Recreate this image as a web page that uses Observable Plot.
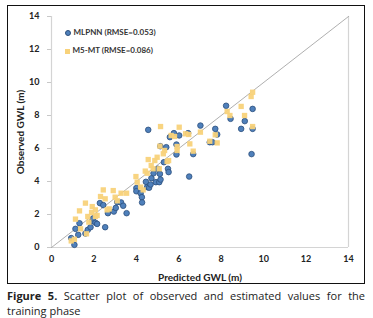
<!DOCTYPE html>
<html><head><meta charset="utf-8">
<script src="https://cdn.jsdelivr.net/npm/d3@7"></script>
<script src="https://cdn.jsdelivr.net/npm/@observablehq/plot@0.6"></script>
<style>
body{margin:0;background:#fff;width:373px;height:318px;position:relative;overflow:hidden;font-family:Lato,"Open Sans",sans-serif;}
#frame{position:absolute;left:7px;top:5px;width:356px;height:277px;border:1.5px solid #111;}
#chart{position:absolute;left:0;top:0;}
#legend{position:absolute;left:65px;top:23px;font:bold 8px Lato,sans-serif;color:#333;line-height:18px;}
#legend span.sw{display:inline-block;width:5px;height:5px;margin-right:2.5px;vertical-align:-0.5px;}
#caption{position:absolute;left:7px;top:288px;width:358px;font:11px "Open Sans",sans-serif;line-height:15px;color:#222;}
#caption .l1{text-align:justify;text-align-last:justify;}
</style></head>
<body>
<div id="frame"></div>
<div id="chart"></div>
<div id="legend"></div>
<div id="caption"><div class="l1"><b>Figure 5.</b> Scatter plot of observed and estimated values for the</div><div>training phase</div></div>
<script>
const seriesNames = ["MLPNN (RMSE=0.053)", "M5-MT (RMSE=0.086)"];
const mlpX = [0.93,1.08,1.13,1.26,1.32,1.60,1.71,1.84,1.92,1.96,2.07,2.15,2.28,2.44,2.53,2.66,2.94,3.03,3.10,3.28,3.38,3.54,4.00,4.00,4.20,4.26,4.27,4.45,4.51,4.60,4.56,4.67,4.71,4.81,4.92,5.01,5.08,5.14,5.11,5.13,5.30,5.41,5.49,5.52,5.58,5.77,5.89,5.89,6.02,6.49,6.68,6.44,7.02,7.46,7.59,7.72,7.81,8.23,8.44,8.94,9.11,9.43,9.48,9.48];
const mlpY = [0.57,0.16,1.13,0.77,1.47,0.85,1.07,1.23,1.60,1.76,1.50,1.43,2.69,2.57,1.23,2.08,2.18,2.40,2.75,2.73,2.53,2.08,3.60,3.41,3.29,3.05,2.73,3.98,3.66,3.62,7.13,3.82,4.20,4.50,3.96,4.77,3.96,4.12,4.46,6.14,5.17,6.08,4.77,4.57,6.69,6.93,6.24,5.64,6.79,4.30,5.66,6.93,7.39,6.38,6.38,7.19,6.85,8.59,7.80,7.19,7.66,5.66,8.40,7.19];
const m5X = [0.93,1.08,1.13,1.32,1.37,1.60,1.65,1.71,1.76,1.92,1.89,2.07,2.15,2.07,2.31,2.44,2.53,2.62,2.72,2.91,3.00,3.10,3.28,3.54,3.98,4.04,4.20,4.32,4.42,4.51,4.56,4.70,4.79,4.87,4.98,5.08,5.11,5.14,5.27,5.33,5.45,5.52,5.64,5.80,5.92,6.02,6.32,6.47,6.52,6.68,7.02,7.46,7.72,7.81,8.28,8.41,8.94,9.10,9.41,9.48,9.48,5.92];
const m5Y = [0.40,0.50,1.72,2.22,1.13,2.69,0.83,1.88,1.54,2.48,2.12,2.28,1.94,1.88,3.09,3.49,2.95,2.28,2.34,3.45,3.05,2.83,3.29,3.29,4.30,3.96,3.66,3.49,4.63,4.50,5.33,4.97,4.77,5.27,5.47,4.77,6.14,7.33,5.68,5.88,5.21,5.27,6.79,6.73,5.88,7.29,6.89,6.85,6.28,5.84,6.99,6.44,6.83,6.34,8.24,8.00,8.55,8.00,9.15,9.41,7.33,6.12];
const axisTicks = [0,2,4,6,8,10,12,14];
const axisLabels = {x:"Predicted GWL (m)", y:"Observed GWL (m)"};
const colors = {mlp:"#4f80bb", mlpStroke:"#2c4f7c", m5:"#f8d27a"};

const mlp = mlpX.map((x,i)=>({x, y:mlpY[i]}));
const m5 = m5X.map((x,i)=>({x, y:m5Y[i]}));
const diag = [axisTicks[0], axisTicks[axisTicks.length-1]];

const chart = Plot.plot({
  width:373, height:288,
  marginLeft:51, marginRight:25, marginTop:16, marginBottom:41,
  style:{fontFamily:"Lato, sans-serif", background:"transparent"},
  x:{domain:[0,14]}, y:{domain:[0,14]},
  marks:[
    Plot.ruleX([0,14], {stroke:"#d4d4d4", strokeWidth:1.2}),
    Plot.ruleY([0], {stroke:"#d4d4d4", strokeWidth:1.2}),
    Plot.line(diag, {x:d=>d, y:d=>d, stroke:"#9a9a9a", strokeWidth:0.8}),
    Plot.dot(mlp, {x:"x", y:"y", r:2.8, fill:colors.mlp, stroke:colors.mlpStroke, strokeWidth:0.8}),
    Plot.dot(m5, {x:"x", y:"y", symbol:"square", r:3.0, fill:colors.m5, fillOpacity:0.95}),
    Plot.axisX({ticks:axisTicks, tickSize:0, tickPadding:8, fontSize:9, fontWeight:"bold", fill:"#222",
      label:axisLabels.x, labelAnchor:"center", labelArrow:"none", labelOffset:33}),
    Plot.axisY({ticks:axisTicks, tickSize:4, tickPadding:8, stroke:"#c8c8c8", fill:"#222", fontSize:9, fontWeight:"bold",
      label:axisLabels.y, labelAnchor:"center", labelArrow:"none", labelOffset:35})
  ]
});
chart.querySelectorAll("g[aria-label='x-axis label'] text, g[aria-label='y-axis label'] text").forEach(t=>{t.style.fontWeight="bold";t.style.fontSize="10px";t.style.fill="#222";});
document.getElementById("chart").appendChild(chart);

const leg = document.getElementById("legend");
leg.innerHTML =
  `<div><span class="sw" style="background:${colors.mlp};border:0.8px solid ${colors.mlpStroke};border-radius:50%;width:4px;height:4px"></span>${seriesNames[0]}</div>` +
  `<div><span class="sw" style="background:${colors.m5}"></span>${seriesNames[1]}</div>`;
</script>
</body></html>
